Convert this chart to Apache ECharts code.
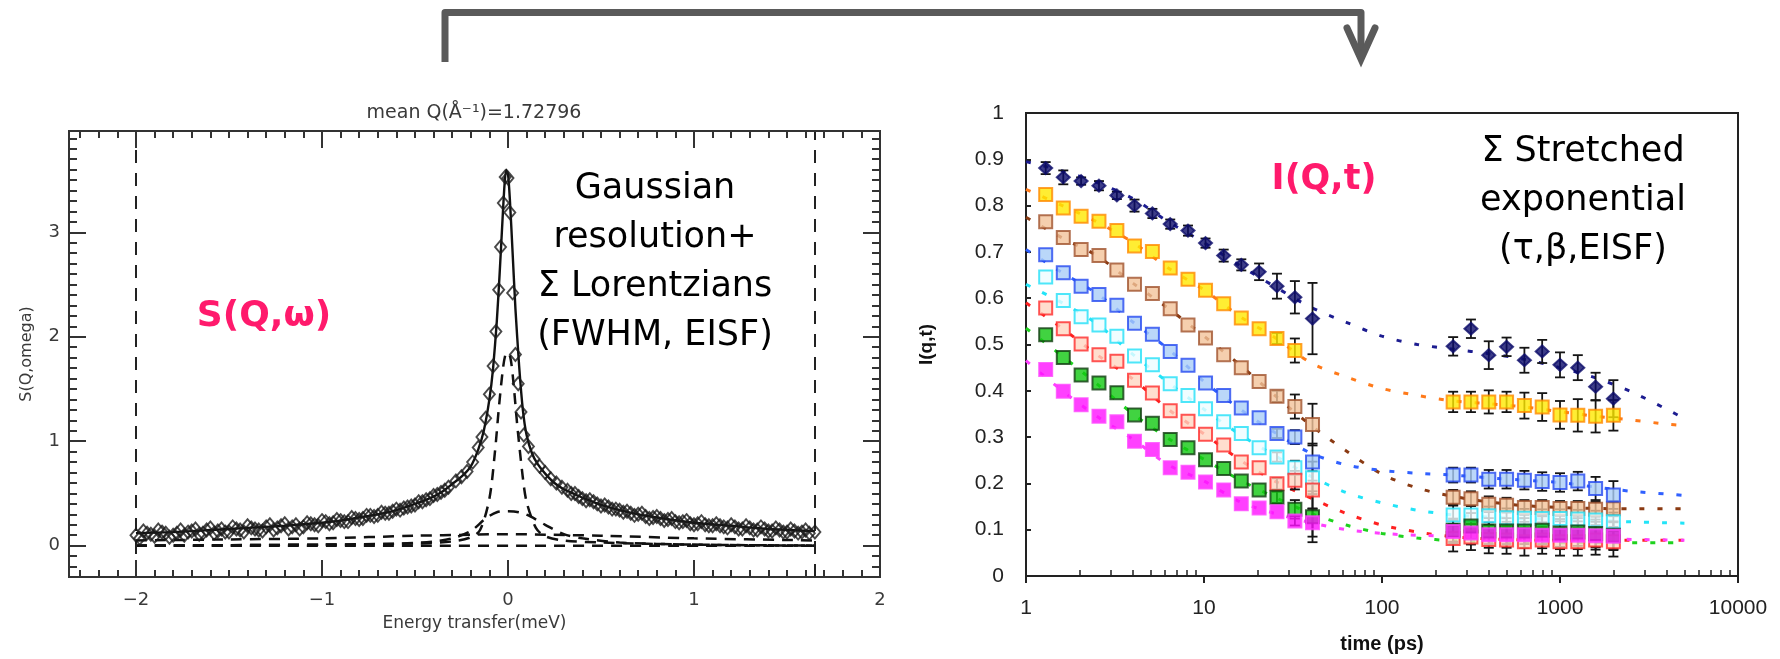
<!DOCTYPE html>
<html>
<head>
<meta charset="utf-8">
<script src="https://cdn.jsdelivr.net/npm/echarts@6/dist/echarts.min.js"></script>
<style>
html,body{margin:0;padding:0;background:#fff}
#chart{width:1780px;height:659px}
</style>
</head>
<body>
<div id="chart"></div>
<script>
// ---- left panel : S(Q,w) ----
var eLimits = [-2, 1.65];
var eMajor = [-2, -1, 0, 1, 2];
var sMajor = [0, 1, 2, 3];

// fitted total (solid)
var fitE = [-2.0,-1.8,-1.6,-1.4,-1.2,-1.0,-0.9,-0.8,-0.7,-0.6,-0.5,-0.4,-0.35,-0.3,-0.25,-0.2,-0.16,-0.13,-0.1,-0.08,-0.06,-0.045,-0.03,-0.02,-0.01,0.0,0.01,0.025,0.04,0.06,0.08,0.1,0.13,0.16,0.2,0.25,0.3,0.35,0.4,0.5,0.6,0.7,0.8,1.0,1.2,1.4,1.65];
var fitS = [0.12,0.13,0.15,0.17,0.19,0.22,0.24,0.27,0.30,0.34,0.40,0.47,0.52,0.59,0.66,0.76,0.92,1.10,1.40,1.70,2.15,2.60,3.10,3.42,3.60,3.56,3.32,2.80,2.27,1.72,1.30,1.06,0.88,0.78,0.69,0.60,0.54,0.50,0.46,0.39,0.34,0.30,0.27,0.22,0.19,0.16,0.14];

// dashed components
var narrowE = [-2.0,-1.0,-0.5,-0.3,-0.2,-0.15,-0.1,-0.07,-0.05,-0.03,-0.015,0.0,0.015,0.03,0.05,0.08,0.1,0.15,0.2,0.3,0.5,1.0,1.65];
var narrowS = [0.0,0.01,0.02,0.04,0.08,0.15,0.45,0.9,1.3,1.65,1.82,1.85,1.78,1.55,1.15,0.65,0.42,0.17,0.09,0.05,0.03,0.01,0.0];
var mediumE = [-2.0,-1.0,-0.6,-0.4,-0.3,-0.2,-0.12,-0.06,0.0,0.06,0.12,0.2,0.3,0.4,0.6,1.0,1.65];
var mediumS = [0.0,0.01,0.02,0.04,0.07,0.14,0.26,0.32,0.33,0.32,0.28,0.20,0.11,0.07,0.03,0.01,0.0];
var broadE = [-2.0,-1.5,-1.0,-0.5,-0.2,0.0,0.2,0.5,1.0,1.65];
var broadS = [0.05,0.06,0.07,0.095,0.105,0.11,0.105,0.095,0.07,0.05];
var baseE = [-2.0, 1.65];
var baseS = [0.0, 0.0];

// measured points (open diamonds)
var sqwPoints = [
  [-2.00,0.10],[-1.96,0.14],[-1.92,0.11],[-1.88,0.15],[-1.84,0.12],[-1.80,0.10],[-1.76,0.15],[-1.72,0.13],
  [-1.68,0.16],[-1.64,0.12],[-1.60,0.17],[-1.56,0.14],[-1.52,0.13],[-1.48,0.18],[-1.44,0.15],[-1.40,0.19],
  [-1.36,0.16],[-1.32,0.14],[-1.28,0.20],[-1.24,0.17],[-1.20,0.21],[-1.16,0.18],[-1.12,0.16],[-1.08,0.22],
  [-1.04,0.20],[-1.00,0.24],[-0.96,0.21],[-0.92,0.25],[-0.88,0.23],[-0.84,0.27],[-0.80,0.25],[-0.76,0.29],
  [-0.72,0.28],[-0.68,0.32],[-0.64,0.31],[-0.60,0.35],[-0.56,0.36],[-0.52,0.38],[-0.48,0.42],[-0.44,0.44],
  [-0.40,0.48],[-0.36,0.51],[-0.32,0.56],[-0.28,0.62],[-0.25,0.66],[-0.22,0.71],[-0.19,0.80],[-0.16,0.94],
  [-0.14,1.04],[-0.12,1.22],[-0.10,1.45],[-0.08,1.72],[-0.065,2.05],[-0.05,2.45],[-0.04,2.86],[-0.025,3.28],
  [-0.015,3.53],[0.0,3.52],[0.01,3.19],[0.025,2.42],[0.04,1.83],[0.055,1.55],[0.07,1.28],[0.085,1.06],
  [0.11,0.95],[0.14,0.83],[0.17,0.76],[0.20,0.70],[0.23,0.64],[0.26,0.60],[0.29,0.56],[0.32,0.53],
  [0.36,0.50],[0.40,0.45],[0.44,0.44],[0.48,0.40],[0.52,0.39],[0.56,0.35],[0.60,0.34],[0.64,0.33],
  [0.68,0.29],[0.72,0.31],[0.76,0.26],[0.80,0.28],[0.84,0.24],[0.88,0.26],[0.92,0.22],[0.96,0.24],
  [1.00,0.20],[1.04,0.23],[1.08,0.19],[1.12,0.21],[1.16,0.18],[1.20,0.20],[1.24,0.16],[1.28,0.19],
  [1.32,0.15],[1.36,0.18],[1.40,0.14],[1.44,0.17],[1.48,0.13],[1.52,0.16],[1.56,0.12],[1.60,0.15],[1.65,0.13]
];
// second pass of points in the wings (interleaved channels)
var sqwPoints2 = [
  [-1.98,0.07],[-1.94,0.12],[-1.90,0.09],[-1.86,0.13],[-1.82,0.08],[-1.78,0.12],[-1.74,0.10],[-1.70,0.14],
  [-1.66,0.11],[-1.62,0.15],[-1.58,0.12],[-1.54,0.16],[-1.50,0.13],[-1.46,0.16],[-1.42,0.13],[-1.38,0.17],
  [-1.34,0.15],[-1.30,0.18],[-1.26,0.15],[-1.22,0.19],[-1.18,0.16],[-1.14,0.20],[-1.10,0.18],[-1.06,0.21],
  [-1.02,0.19],[-0.98,0.23],[-0.94,0.22],[-0.90,0.24],[-0.86,0.23],[-0.82,0.26],[-0.78,0.26],[-0.74,0.29],
  [-0.70,0.29],[-0.66,0.31],[-0.62,0.33],[-0.58,0.34],[-0.54,0.37],[-0.50,0.39],[-0.46,0.42],[-0.42,0.45],
  [-0.38,0.49],[-0.34,0.53],
  [0.34,0.50],[0.38,0.47],[0.42,0.43],[0.46,0.42],[0.50,0.38],[0.54,0.37],[0.58,0.35],[0.62,0.32],
  [0.66,0.31],[0.70,0.30],[0.74,0.28],[0.78,0.27],[0.82,0.26],[0.86,0.25],[0.90,0.23],[0.94,0.23],
  [0.98,0.21],[1.02,0.21],[1.06,0.20],[1.10,0.19],[1.14,0.19],[1.18,0.17],[1.22,0.18],[1.26,0.16],
  [1.30,0.17],[1.34,0.15],[1.38,0.16],[1.42,0.14],[1.46,0.15],[1.50,0.13],[1.54,0.14],[1.58,0.13],[1.62,0.12]
];

// ---- right panel : I(Q,t) ----
var tShort = [1.29,1.62,2.04,2.57,3.24,4.07,5.13,6.46,8.13,10.2,12.9,16.2,20.4,25.7,32.4,40.7];
var tLong = [251,316,398,501,631,794,1000,1259,1585,1995];
var tFit = [1,1.6,2.5,4,6.3,10,16,25,40,63,100,158,251,398,631,1000,1585,2512,3981,5000];

var navyShort = [0.881,0.861,0.853,0.843,0.822,0.800,0.783,0.760,0.746,0.719,0.692,0.672,0.657,0.626,0.602,0.556];
var navyLong = [0.496,0.534,0.477,0.495,0.466,0.485,0.456,0.450,0.409,0.383];
var navyErrShort = [0.013,0.015,0.008,0.01,0.008,0.013,0.01,0.01,0.011,0.01,0.013,0.012,0.018,0.027,0.035,0.077];
var navyErrLong = [0.02,0.02,0.03,0.02,0.027,0.025,0.027,0.027,0.03,0.04];
var navyFit = [0.895,0.875,0.85,0.815,0.765,0.72,0.67,0.625,0.58,0.548,0.518,0.5,0.49,0.48,0.468,0.45,0.428,0.398,0.36,0.34];

var orangeShort = [0.824,0.795,0.777,0.766,0.746,0.713,0.701,0.665,0.641,0.617,0.588,0.557,0.534,0.513,0.487,null];
var orangeLong = [0.376,0.376,0.376,0.376,0.368,0.365,0.348,0.347,0.345,0.347];
var orangeErrShort = [0,0,0,0,0,0,0,0,0,0,0,0,0,0.012,0.026,0];
var orangeErrLong = [0.022,0.022,0.025,0.022,0.028,0.03,0.03,0.035,0.035,0.033];
var orangeFit = [0.835,0.80,0.765,0.72,0.665,0.618,0.56,0.515,0.46,0.43,0.405,0.39,0.378,0.372,0.365,0.355,0.345,0.337,0.328,0.325];

var brownShort = [0.765,0.731,0.705,0.692,0.661,0.630,0.610,0.577,0.542,0.514,0.478,0.450,0.420,0.388,0.366,0.327];
var brownLong = [0.170,0.167,0.155,0.153,0.148,0.148,0.146,0.146,0.144,0.145];
var brownErrShort = [0,0,0,0,0,0,0,0,0,0,0,0,0,0.012,0.026,0.045];
var brownErrLong = [0.016,0.016,0.017,0.016,0.016,0.016,0.016,0.016,0.016,0.016];
var brownFit = [0.775,0.73,0.692,0.632,0.578,0.518,0.455,0.39,0.325,0.27,0.22,0.19,0.172,0.16,0.152,0.148,0.146,0.145,0.145,0.145];

var blueShort = [0.694,0.655,0.626,0.608,0.585,0.546,0.522,0.485,0.455,0.417,0.390,0.363,0.342,0.308,0.300,0.246];
var blueLong = [0.218,0.218,0.209,0.209,0.207,0.204,0.202,0.205,0.189,0.175];
var blueErrShort = [0,0,0,0,0,0,0,0,0,0,0,0,0,0.01,0.015,0.04];
var blueErrLong = [0.016,0.016,0.02,0.02,0.02,0.02,0.02,0.02,0.025,0.03];
var blueFit = [0.705,0.655,0.61,0.548,0.49,0.42,0.36,0.31,0.265,0.24,0.228,0.222,0.218,0.212,0.207,0.202,0.192,0.183,0.177,0.174];

var cyanShort = [0.646,0.595,0.560,0.542,0.518,0.475,0.456,0.415,0.390,0.361,0.333,0.308,0.277,0.257,0.234,0.212];
var cyanLong = [0.132,0.132,0.130,0.126,0.125,0.124,0.124,0.123,0.121,0.117];
var cyanErrShort = [0,0,0,0,0,0,0,0,0,0,0,0,0,0.01,0.015,0.035];
var cyanErrLong = [0.02,0.02,0.02,0.02,0.02,0.02,0.02,0.02,0.02,0.02];
var cyanFit = [0.63,0.59,0.545,0.478,0.418,0.36,0.305,0.26,0.215,0.18,0.158,0.142,0.132,0.127,0.124,0.122,0.12,0.117,0.115,0.114];

var redShort = [0.579,0.534,0.501,0.478,0.464,0.423,0.395,0.357,0.334,0.306,0.283,0.246,0.234,0.199,0.207,0.186];
var redLong = [0.081,0.084,0.079,0.078,0.074,0.078,0.074,0.074,0.078,0.074];
var redErrShort = [0,0,0,0,0,0,0,0,0,0,0,0,0,0.012,0.02,0.04];
var redErrLong = [0.028,0.028,0.03,0.03,0.03,0.03,0.03,0.03,0.032,0.032];
var redFit = [0.59,0.535,0.478,0.425,0.36,0.307,0.25,0.205,0.168,0.135,0.11,0.095,0.085,0.08,0.078,0.077,0.077,0.077,0.077,0.077];

var greenShort = [0.521,0.472,0.434,0.417,0.396,0.348,0.330,0.295,0.277,0.251,0.232,0.205,0.186,0.170,0.144,0.128];
var greenLong = [0.099,0.108,0.097,0.097,0.097,0.099,0.093,0.095,0.092,0.088];
var greenErrShort = [0,0,0,0,0,0,0,0,0,0,0,0,0,0.012,0.02,0.055];
var greenErrLong = [0.025,0.028,0.028,0.028,0.028,0.03,0.03,0.03,0.03,0.03];
var greenFit = [0.535,0.475,0.415,0.35,0.297,0.252,0.207,0.17,0.135,0.11,0.092,0.082,0.076,0.073,0.072,0.072,0.072,0.072,0.072,0.072];

var magentaShort = [0.446,0.399,0.370,0.345,0.333,0.291,0.273,0.234,0.224,0.203,0.186,0.156,0.147,0.139,0.119,0.115];
var magentaLong = [0.096,0.093,0.089,0.089,0.089,0.088,0.088,0.088,0.087,0.086];
var magentaErrShort = [0,0,0,0,0,0,0,0,0,0,0,0,0,0,0.01,0.03];
var magentaErrLong = [0.025,0.025,0.028,0.028,0.028,0.028,0.03,0.03,0.03,0.03];
var magentaFit = [0.465,0.4,0.345,0.295,0.24,0.205,0.16,0.135,0.115,0.1,0.092,0.088,0.086,0.085,0.083,0.082,0.08,0.079,0.078,0.077];

var qSets = [
  {y: navyShort, y2: navyLong, e: navyErrShort, e2: navyErrLong, fit: navyFit, symbol: 'diamond', size: [13, 12], fill: '#0c0c6a', border: '#0c0c6a', line: '#1c1c90'},
  {y: orangeShort, y2: orangeLong, e: orangeErrShort, e2: orangeErrLong, fit: orangeFit, symbol: 'rect', size: 13, fill: '#ffe800', border: '#ff8a00', line: '#ff7a1a'},
  {y: brownShort, y2: brownLong, e: brownErrShort, e2: brownErrLong, fit: brownFit, symbol: 'rect', size: 13, fill: '#f2c39a', border: '#a0522d', line: '#8a3a12'},
  {y: blueShort, y2: blueLong, e: blueErrShort, e2: blueErrLong, fit: blueFit, symbol: 'rect', size: 13, fill: '#a9cdf8', border: '#2448f0', line: '#3060ff'},
  {y: cyanShort, y2: cyanLong, e: cyanErrShort, e2: cyanErrLong, fit: cyanFit, symbol: 'rect', size: 13, fill: '#eefdff', border: '#22e0f8', line: '#22e4f8'},
  {y: redShort, y2: redLong, e: redErrShort, e2: redErrLong, fit: redFit, symbol: 'rect', size: 13, fill: '#ffd6c2', border: '#ff2a2a', line: '#ff2020'},
  {y: greenShort, y2: greenLong, e: greenErrShort, e2: greenErrLong, fit: greenFit, symbol: 'rect', size: 13, fill: '#12c812', border: '#123c12', line: '#1ed21e'},
  {y: magentaShort, y2: magentaLong, e: magentaErrShort, e2: magentaErrLong, fit: magentaFit, symbol: 'rect', size: 13, fill: '#ff10ff', border: '#ff40ff', line: '#ff40ff'}
];

// minor tick positions
var eMinor = [], sMinor = [], tMinor = [];
for (var k = -23; k <= 20; k++) { if (k % 10 !== 0) eMinor.push(k / 10); }
for (var k = -2; k <= 39; k++) { if (k % 10 !== 0) sMinor.push(k / 10); }
[1, 10, 100, 1000].forEach(function (d) { for (var m = 2; m <= 9; m++) tMinor.push(m * d); });

var zip = function (a, b) { return a.map(function (v, i) { return [v, b[i]]; }); };
var minusFmt = function (v) { return v < 0 ? '\u2212' + Math.abs(v) : String(v); };

var leftFont = 'DejaVu Sans';
var rightFont = 'Liberation Sans';

function tickAxis(dim, pos, vals, len, labels, extra) {
  var ax = {
    type: 'value', gridIndex: 0, position: pos, z: 6,
    axisLine: {show: true, onZero: false, lineStyle: {color: '#333', width: 2}},
    axisTick: {show: true, inside: true, length: len, customValues: vals, lineStyle: {color: '#333', width: 2}},
    axisLabel: {show: false},
    splitLine: {show: false}
  };
  if (dim === 'x') { ax.min = -2.36; ax.max = 2.0; } else { ax.min = -0.3; ax.max = 3.97; }
  if (labels) {
    ax.axisLabel = {show: true, customValues: vals, formatter: minusFmt, color: '#3a3a3a', fontSize: 18, fontFamily: leftFont, margin: dim === 'x' ? 14 : 9};
  }
  return Object.assign(ax, extra || {});
}

var xAxes = [
  tickAxis('x', 'bottom', eMajor, 17, true, {name: 'Energy transfer(meV)', nameLocation: 'middle', nameGap: 38, nameTextStyle: {fontSize: 17, color: '#3a3a3a', fontFamily: leftFont}}),
  tickAxis('x', 'bottom', eMinor, 7, false),
  tickAxis('x', 'top', eMajor, 17, false),
  tickAxis('x', 'top', eMinor, 7, false),
  {
    type: 'log', logBase: 10, min: 1, max: 10000, gridIndex: 1, position: 'bottom',
    axisLine: {show: true, onZero: false, lineStyle: {color: '#222', width: 2}},
    axisTick: {show: true, inside: false, length: 7, lineStyle: {color: '#222', width: 2}},
    axisLabel: {color: '#222', fontSize: 21, fontFamily: rightFont, margin: 22, formatter: function (v) { return String(Math.round(v)); }},
    splitLine: {show: false}, minorTick: {show: false},
    name: 'time (ps)', nameLocation: 'middle', nameGap: 58,
    nameTextStyle: {fontSize: 20, fontWeight: 'bold', color: '#111', fontFamily: rightFont}
  },
  {
    type: 'log', logBase: 10, min: 1, max: 10000, gridIndex: 1, position: 'bottom',
    axisLine: {show: false, onZero: false},
    axisTick: {show: true, inside: true, length: 6, customValues: tMinor, lineStyle: {color: '#222', width: 1.5}},
    axisLabel: {show: false}, splitLine: {show: false}
  }
];

var yAxes = [
  tickAxis('y', 'left', sMajor, 17, true, {name: 'S(Q,omega)', nameLocation: 'middle', nameGap: 34, nameTextStyle: {fontSize: 16, color: '#3a3a3a', fontFamily: leftFont}}),
  tickAxis('y', 'left', sMinor, 8, false),
  tickAxis('y', 'right', sMajor, 17, false),
  tickAxis('y', 'right', sMinor, 8, false),
  {
    type: 'value', min: 0, max: 1, interval: 0.1, gridIndex: 1, position: 'left',
    axisLine: {show: true, onZero: false, lineStyle: {color: '#222', width: 2}},
    axisTick: {show: true, inside: true, length: 5, lineStyle: {color: '#222', width: 2}},
    axisLabel: {color: '#222', fontSize: 21, fontFamily: rightFont, margin: 22, formatter: function (v) { return (v === 0 || v === 1) ? String(v) : v.toFixed(1); }},
    splitLine: {show: false},
    name: 'I(q,t)', nameLocation: 'middle', nameGap: 90,
    nameTextStyle: {fontSize: 19, fontWeight: 'bold', color: '#111', fontFamily: rightFont}
  }
];

function dashedComp(e, s) {
  return {
    type: 'line', xAxisIndex: 0, yAxisIndex: 0, data: zip(e, s), smooth: 0.3, showSymbol: false, z: 3,
    lineStyle: {color: '#111', width: 2.5, type: [11, 8]}
  };
}

function renderErr(params, api) {
  var x = api.value(0), lo = api.value(1), hi = api.value(2);
  var p1 = api.coord([x, lo]), p2 = api.coord([x, hi]);
  var w = 5, st = {stroke: '#151515', lineWidth: 1.8};
  return {type: 'group', children: [
    {type: 'line', shape: {x1: p1[0], y1: p1[1], x2: p2[0], y2: p2[1]}, style: st},
    {type: 'line', shape: {x1: p1[0] - w, y1: p1[1], x2: p1[0] + w, y2: p1[1]}, style: st},
    {type: 'line', shape: {x1: p2[0] - w, y1: p2[1], x2: p2[0] + w, y2: p2[1]}, style: st}
  ]};
}

var series = [
  {
    type: 'line', xAxisIndex: 0, yAxisIndex: 0, data: zip(fitE, fitS), smooth: 0.2, showSymbol: false, z: 4,
    lineStyle: {color: '#111', width: 2.4},
    markLine: {
      silent: true, symbol: 'none', label: {show: false},
      lineStyle: {color: '#222', width: 2, type: [13, 10]},
      data: eLimits.map(function (v) { return {xAxis: v}; })
    }
  },
  dashedComp(narrowE, narrowS),
  dashedComp(mediumE, mediumS),
  dashedComp(broadE, broadS),
  dashedComp(baseE, baseS),
  {
    type: 'scatter', xAxisIndex: 0, yAxisIndex: 0, data: sqwPoints.concat(sqwPoints2), symbol: 'diamond', symbolSize: [11, 13], z: 5,
    itemStyle: {color: 'rgba(255,255,255,0)', borderColor: '#1a1a1a', borderWidth: 1.9}
  }
];

qSets.forEach(function (q) {
  series.push({
    type: 'line', xAxisIndex: 4, yAxisIndex: 4, data: zip(tFit, q.fit), smooth: 0.3, showSymbol: false, z: 2,
    lineStyle: {color: q.line, width: 3, type: [5, 13]}
  });
});
qSets.forEach(function (q) {
  var bars = [];
  tShort.forEach(function (t, i) { if (q.e[i] && q.y[i] != null) bars.push([t, q.y[i] - q.e[i], q.y[i] + q.e[i]]); });
  tLong.forEach(function (t, i) { if (q.e2[i]) bars.push([t, q.y2[i] - q.e2[i], q.y2[i] + q.e2[i]]); });
  series.push({
    type: 'custom', xAxisIndex: 4, yAxisIndex: 4, data: bars, renderItem: renderErr, z: 3,
    encode: {x: 0, y: [1, 2]}
  });
});
qSets.forEach(function (q) {
  var pts = zip(tShort, q.y).filter(function (p) { return p[1] != null; }).concat(zip(tLong, q.y2));
  series.push({
    type: 'scatter', xAxisIndex: 4, yAxisIndex: 4, data: pts, symbol: q.symbol, symbolSize: q.size, z: 4,
    itemStyle: {color: q.fill, borderColor: q.border, borderWidth: 2}
  });
});

var chart = echarts.init(document.getElementById('chart'));
chart.setOption({
  animation: false,
  backgroundColor: '#fff',
  grid: [
    {left: 69, top: 131, width: 811, height: 446, show: true, borderColor: '#333', borderWidth: 2, backgroundColor: 'transparent'},
    {left: 1026, top: 113, width: 712, height: 463, show: true, borderColor: '#222', borderWidth: 2, backgroundColor: 'transparent'}
  ],
  xAxis: xAxes,
  yAxis: yAxes,
  series: series,
  graphic: [
    {type: 'polyline', shape: {points: [[445, 62], [445, 12.5], [1361, 12.5], [1361, 56]]}, style: {stroke: '#5a5a5a', lineWidth: 7, fill: null, lineJoin: 'round'}},
    {type: 'polyline', shape: {points: [[1347, 28], [1361, 59], [1375, 28]]}, style: {stroke: '#5a5a5a', lineWidth: 7, fill: null, lineCap: 'round', lineJoin: 'miter'}},
    {type: 'text', x: 474, y: 113, style: {text: 'mean Q(\u00c5\u207b\u00b9)=1.72796', font: '19px "DejaVu Sans"', fill: '#3a3a3a', align: 'center', verticalAlign: 'middle'}},
    {type: 'text', x: 264, y: 317, style: {text: 'S(Q,\u03c9)', font: 'bold 36px "DejaVu Sans"', fill: '#ff1a6c', align: 'center', verticalAlign: 'middle'}},
    {type: 'text', x: 655, y: 262, style: {text: 'Gaussian\nresolution+\n\u03a3 Lorentzians\n(FWHM, EISF)', font: '35px "DejaVu Sans"', lineHeight: 49, fill: '#000', align: 'center', verticalAlign: 'middle'}},
    {type: 'text', x: 1324, y: 180, style: {text: 'I(Q,t)', font: 'bold 35px "DejaVu Sans"', fill: '#ff1a6c', align: 'center', verticalAlign: 'middle'}},
    {type: 'text', x: 1583, y: 201, style: {text: '\u03a3 Stretched\nexponential\n(\u03c4,\u03b2,EISF)', font: '35px "DejaVu Sans"', lineHeight: 49, fill: '#000', align: 'center', verticalAlign: 'middle'}}
  ]
});
</script>
</body>
</html>
